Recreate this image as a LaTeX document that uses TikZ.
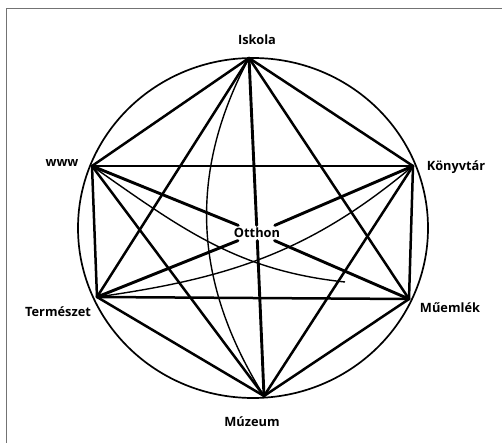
\documentclass[tikz,border=0pt]{standalone}
\usepackage{fontspec}
\setsansfont{Open Sans}
\usetikzlibrary{positioning}

\begin{document}
\begin{tikzpicture}[
    x=1pt, y=-1pt,
    every node/.style={font=\sffamily\bfseries\fontsize{12.8}{15}\selectfont},
    place/.style={inner sep=1pt},
    hub/.style={inner sep=2.5pt},
    edge/.style={line width=2.5pt, line cap=round},
    hubedge/.style={line width=2.9pt, line cap=round},
    thin/.style={line width=1.4pt},
    ring/.style={line width=1.7pt}
  ]
  \useasboundingbox (0,0) rectangle (502,443);

  % --- Frame ---
  \draw[black!55, line width=0.9pt] (6,443) -- (6,8) -- (502,8);

  % --- Points on the ring ---
  \coordinate (isk) at (249,58);
  \coordinate (www) at (92,166);
  \coordinate (kon) at (413,166);
  \coordinate (ter) at (97,297);
  \coordinate (mue) at (409,299);
  \coordinate (muz) at (264,396);
  \coordinate (loose) at (345,282);

  % --- Labels ---
  \node[place] (iskL) at (257,40) {Iskola};
  \node[place] (wwwL) at (62,163) {www};
  \node[place] (konL) at (456,167) {Könyvtár};
  \node[place] (terL) at (58,312) {Természet};
  \node[place] (mueL) at (450,308) {Műemlék};
  \node[place] (muzL) at (252,422) {Múzeum};
  \node[hub] (ott) at (257,233) {Otthon};

  % --- Ring ---
  \draw[ring] (253,228) ellipse [x radius=175, y radius=170];

  % --- Outer links ---
  \draw[edge] (isk) -- (www);
  \draw[edge] (isk) -- (kon);
  \draw[edge] (isk) -- (ter);
  \draw[edge] (isk) -- (mue);
  \draw[edge] (www) -- (kon);
  \draw[edge] (www) -- (ter);
  \draw[edge] (www) -- (muz);
  \draw[edge] (kon) -- (mue);
  \draw[edge] (kon) -- (muz);
  \draw[edge] (ter) -- (mue);
  \draw[edge] (ter) -- (muz);
  \draw[edge] (mue) -- (muz);

  % --- Links through Otthon ---
  \draw[hubedge] (isk) -- (ott);
  \draw[hubedge] (ott) -- (muz);
  \draw[hubedge] (www) -- (ott);
  \draw[hubedge] (ott) -- (mue);
  \draw[hubedge] (kon) -- (ott);
  \draw[hubedge] (ott) -- (ter);

  % --- Curved links ---
  \draw[thin] (isk) to[out=-118, in=122] (muz);
  \draw[thin] (ter) to[out=8, in=-140] (kon);
  \draw[thin] (www) to[out=-35, in=174] (loose);

\end{tikzpicture}
\end{document}
